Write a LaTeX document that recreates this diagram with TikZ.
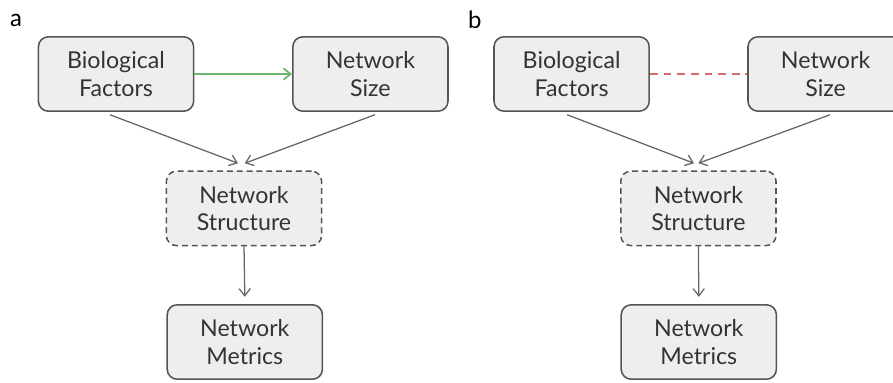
\documentclass[tikz,border=0pt]{standalone}
\usepackage{fontspec}
\setmainfont{Lato}
\usetikzlibrary{arrows.meta}
\definecolor{boxfill}{HTML}{EEEEEE}
\definecolor{boxline}{HTML}{555555}
\definecolor{arrline}{HTML}{666666}
\definecolor{textcol}{HTML}{333333}
\definecolor{greenarr}{HTML}{6DB56D}
\definecolor{reddash}{HTML}{D46A6A}
\tikzset{
	box/.style={draw=boxline, fill=boxfill, line width=1.1pt, rounded corners=0.25cm,
		minimum width=3.88cm, minimum height=1.86cm, align=center, text=textcol,
		font=\fontsize{16.5}{19.5}\selectfont},
	dashbox/.style={box, dash pattern=on 4.2pt off 2.8pt},
	arr/.style={draw=arrline, line width=0.9pt, -{Straight Barb[length=1.8mm,width=2.8mm]}},
	panel/.style={font=\fontsize{17}{20}\selectfont}
}
\begin{document}
\begin{tikzpicture}
		%%%%% START %%%%%
		\useasboundingbox (0, 0) rectangle (22.325, -9.55);
		\clip (0, 0) rectangle (22.325, -9.55);
		
		%% panel a
		\node[panel] (labA) at (0.4, -0.52) {a};
		\node[box] (bioA) at (2.9, -1.85) {Biological\\Factors};
		\node[box] (sizeA) at (9.26, -1.85) {Network\\Size};
		\node[dashbox] (structA) at (6.1, -5.21) {Network\\Structure};
		\node[box] (metricsA) at (6.12, -8.55) {Network\\Metrics};
		
		\draw[arr, draw=greenarr, line width=1.2pt] (bioA.east) -- (sizeA.west);
		\draw[arr] ([xshift=-0.15cm, yshift=-0.07cm]bioA.south) -- ([xshift=-0.15cm, yshift=0.18cm]structA.north);
		\draw[arr] ([xshift=0.11cm, yshift=-0.07cm]sizeA.south) -- ([xshift=0.02cm, yshift=0.18cm]structA.north);
		\draw[arr] (structA.south) -- ([yshift=0.18cm]metricsA.north);
		
		%% panel b
		\node[panel] (labB) at (11.87, -0.5) {b};
		\node[box] (bioB) at (14.29, -1.85) {Biological\\Factors};
		\node[box] (sizeB) at (20.64, -1.85) {Network\\Size};
		\node[dashbox] (structB) at (17.46, -5.21) {Network\\Structure};
		\node[box] (metricsB) at (17.47, -8.55) {Network\\Metrics};
		
		\draw[reddash, line width=1.4pt, dash pattern=on 5.5pt off 4.2pt] (bioB.east) -- (sizeB.west);
		\draw[arr] ([xshift=-0.11cm, yshift=-0.07cm]bioB.south) -- ([xshift=-0.11cm, yshift=0.18cm]structB.north);
		\draw[arr] ([xshift=0.11cm, yshift=-0.07cm]sizeB.south) -- ([xshift=0.0cm, yshift=0.18cm]structB.north);
		\draw[arr] (structB.south) -- ([yshift=0.18cm]metricsB.north);
		
		%%%%% END %%%%%
	\end{tikzpicture}
\end{document}
